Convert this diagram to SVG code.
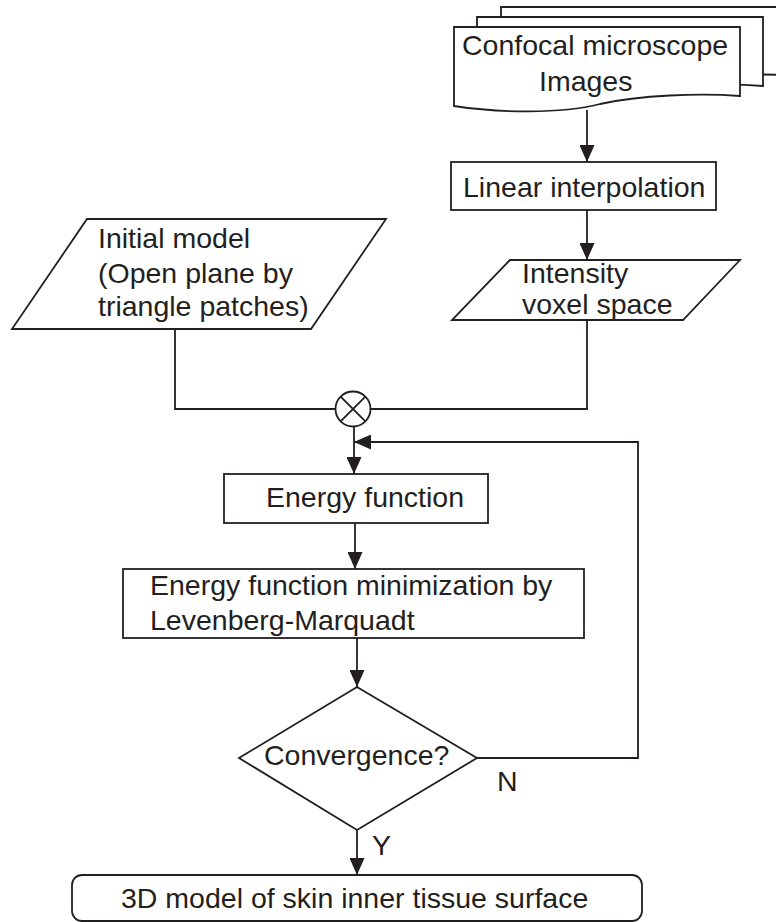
<svg xmlns="http://www.w3.org/2000/svg" width="776" height="922" viewBox="0 0 776 922">
  <style>
    .shape { fill: #ffffff; stroke: #231f20; stroke-width: 1.8; }
    .line { fill: none; stroke: #231f20; stroke-width: 1.8; }
    .label { font-family: "Liberation Sans", Arial, Helvetica, sans-serif; font-size: 28.5px; fill: #231f20; }
  </style>
  <defs>
    <marker id="arrow" markerUnits="userSpaceOnUse" markerWidth="17" markerHeight="15" refX="17" refY="7.5" orient="auto">
      <path d="M0,0 L17,7.5 L0,15 z" fill="#231f20"/>
    </marker>
  </defs>
  <rect width="776" height="922" fill="#ffffff"/>

  <!-- stacked document: image sources -->
  <g id="confocal-images">
    <path class="shape" d="M501,7 H800 V76 C760,73 720,75 700,78 L501,86 Z"/>
    <path class="shape" d="M477,17 H763 V86 C723,83 663,85 623,94 C583,103 523,103 477,96 Z"/>
    <path class="shape" d="M454,27 H740 V96 C700,93 640,95 600,104 C560,114 500,113 454,106 Z"/>
    <text class="label" x="462" y="55">Confocal microscope</text>
    <text class="label" x="539" y="91">Images</text>
  </g>

  <g id="linear-interpolation">
    <rect class="shape" x="451" y="162" width="265" height="48"/>
    <text class="label" x="463" y="197">Linear interpolation</text>
  </g>

  <g id="intensity-voxel">
    <path class="shape" d="M510,260 H740 L683,320 H452 Z"/>
    <text class="label" x="522" y="283">Intensity</text>
    <text class="label" x="522" y="314">voxel space</text>
  </g>

  <g id="initial-model">
    <path class="shape" d="M87,219 H386 L311,329 H12 Z"/>
    <text class="label" x="98" y="248">Initial model</text>
    <text class="label" x="98" y="283">(Open plane by</text>
    <text class="label" x="98" y="316">triangle patches)</text>
  </g>

  <g id="combine">
    <circle class="shape" cx="353" cy="409" r="17.5"/>
    <path class="line" d="M340.6,396.6 L365.4,421.4 M365.4,396.6 L340.6,421.4"/>
  </g>

  <g id="energy-function">
    <rect class="shape" x="224" y="474" width="264" height="49"/>
    <text class="label" x="266" y="507">Energy function</text>
  </g>

  <g id="minimization">
    <rect class="shape" x="123" y="569" width="461" height="69"/>
    <text class="label" x="150" y="595">Energy function minimization by</text>
    <text class="label" x="150" y="630">Levenberg-Marquadt</text>
  </g>

  <g id="convergence">
    <path class="shape" d="M357,687 L477,758 L357,830 L239,758 Z"/>
    <text class="label" x="264" y="765">Convergence?</text>
  </g>

  <g id="result">
    <rect class="shape" x="72" y="875" width="570" height="46" rx="10"/>
    <text class="label" x="121" y="908">3D model of skin inner tissue surface</text>
  </g>

  <g id="connectors">
    <path class="line" d="M587,110 V162" marker-end="url(#arrow)"/>
    <path class="line" d="M587,210 V260" marker-end="url(#arrow)"/>
    <path class="line" d="M587,320 V409 H370.5"/>
    <path class="line" d="M175,330 V409 H335.5"/>
    <path class="line" d="M354,426.5 V474" marker-end="url(#arrow)"/>
    <path class="line" d="M355,523 V569" marker-end="url(#arrow)"/>
    <path class="line" d="M357,638 V687" marker-end="url(#arrow)"/>
    <path class="line" d="M477,758 H638 V442 H354" marker-end="url(#arrow)"/>
    <path class="line" d="M357,830 V875" marker-end="url(#arrow)"/>
    <text class="label" x="497" y="791">N</text>
    <text class="label" x="372" y="855">Y</text>
  </g>
</svg>
